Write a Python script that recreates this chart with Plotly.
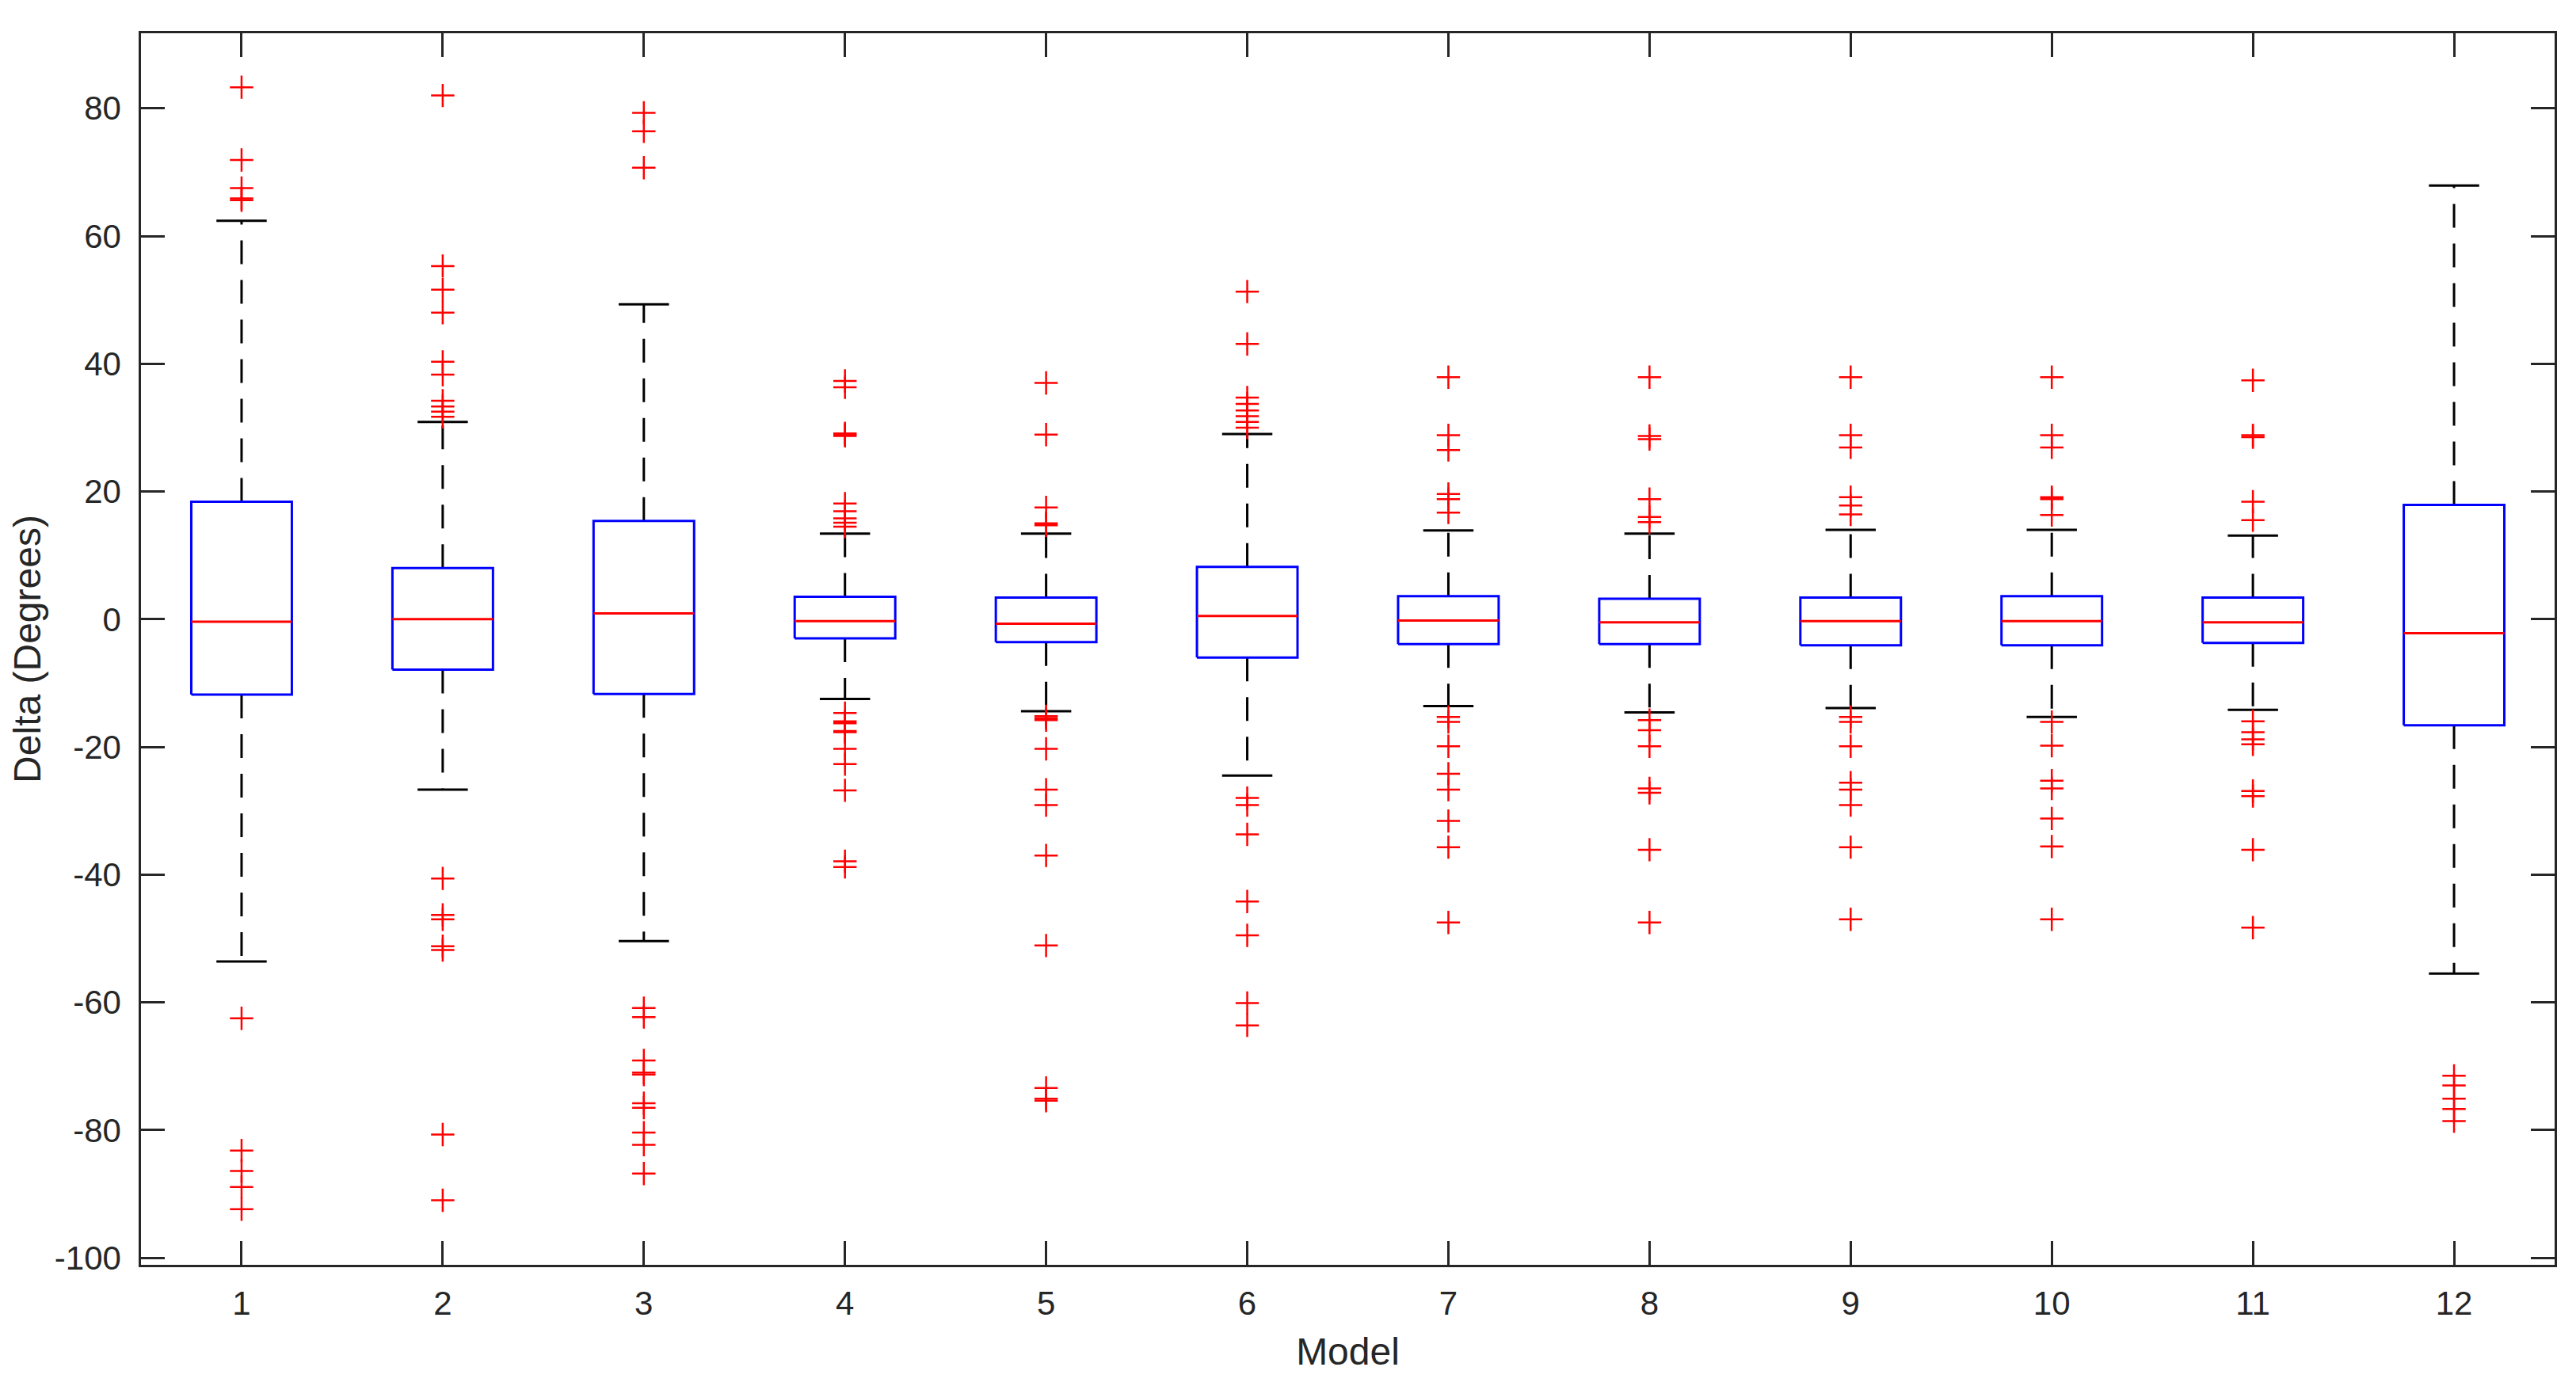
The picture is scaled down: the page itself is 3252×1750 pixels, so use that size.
import plotly.graph_objects as go

# box statistics (degrees)
models = list(range(1, 13))
q1 = [-11.8, -7.9, -11.7, -3.0, -3.6, -6.0, -3.9, -3.9, -4.1, -4.1, -3.7, -16.6]
median = [-0.4, 0.0, 0.9, -0.3, -0.7, 0.5, -0.2, -0.5, -0.3, -0.3, -0.5, -2.2]
q3 = [18.4, 8.0, 15.4, 3.5, 3.4, 8.2, 3.6, 3.2, 3.4, 3.6, 3.4, 17.9]
upper_whisker = [62.4, 30.9, 49.3, 13.4, 13.4, 29.0, 13.9, 13.4, 14.0, 14.0, 13.1, 67.9]
lower_whisker = [-53.6, -26.7, -50.4, -12.5, -14.4, -24.5, -13.6, -14.6, -13.9, -15.3, -14.2, -55.5]

outliers = [
    [83.3, 71.9, 67.5, 65.9, 65.6, -62.5, -83.2, -86.4, -88.9, -92.4],
    [82.0, 55.3, 51.6, 48.0, 40.3, 38.3, 34.2, 33.3, 32.5, 31.7,
     -40.6, -46.3, -47.0, -51.2, -51.8, -80.7, -91.0],
    [79.3, 76.4, 70.7, -60.9, -62.3, -69.1, -71.0, -71.3, -75.8, -76.5,
     -80.4, -82.3, -86.8],
    [37.3, 36.3, 29.1, 28.9, 28.7, 18.1, 16.9, 15.8, 15.1, 14.5,
     -14.7, -16.0, -16.3, -17.5, -17.7, -20.3, -22.7, -26.8, -37.9, -38.8],
    [37.0, 28.9, 17.5, 15.0, 14.7, -15.2, -15.5, -15.8, -20.3, -26.7,
     -29.1, -37.0, -51.1, -73.4, -75.1, -75.4],
    [51.3, 43.1, 34.7, 33.7, 32.7, 31.8, 30.9, 30.0,
     -28.0, -29.1, -33.7, -44.2, -49.5, -60.1, -63.6],
    [37.9, 28.8, 26.5, 19.6, 18.8, 16.7,
     -15.3, -16.1, -19.9, -24.2, -26.7, -31.6, -35.7, -47.5],
    [37.9, 28.7, 28.2, 18.8, 16.0, 15.2,
     -15.8, -17.4, -19.9, -26.5, -27.2, -36.1, -47.5],
    [37.9, 28.8, 26.9, 19.1, 17.8, 16.4,
     -15.3, -16.1, -19.9, -25.6, -26.7, -29.1, -35.7, -47.0],
    [37.9, 28.8, 26.9, 19.1, 18.8, 16.3,
     -16.1, -19.8, -25.3, -26.5, -31.2, -35.6, -47.0],
    [37.4, 28.8, 28.5, 18.4, 15.5,
     -16.0, -17.7, -18.8, -19.6, -26.9, -27.7, -36.1, -48.3],
    [-71.5, -73.0, -75.1, -76.7, -78.6],
]

y_ticks = list(range(-100, 81, 20))
y_tick_text = [str(v) for v in y_ticks]  # plain hyphen minus, as in the original

half_box = 0.25
half_cap = 0.125

# build line segments, separated by None
wx, wy = [], []
cx, cy = [], []
bx, by = [], []
mx, my = [], []
ox, oy = [], []
for i, m in enumerate(models):
    wx += [m, m, None, m, m, None]
    wy += [q3[i], upper_whisker[i], None, q1[i], lower_whisker[i], None]
    cx += [m - half_cap, m + half_cap, None, m - half_cap, m + half_cap, None]
    cy += [upper_whisker[i], upper_whisker[i], None, lower_whisker[i], lower_whisker[i], None]
    bx += [m - half_box, m + half_box, m + half_box, m - half_box, m - half_box, None]
    by += [q1[i], q1[i], q3[i], q3[i], q1[i], None]
    mx += [m - half_box, m + half_box, None]
    my += [median[i], median[i], None]
    ox += [m] * len(outliers[i])
    oy += outliers[i]

fig = go.Figure()
fig.add_trace(go.Scatter(x=wx, y=wy, mode="lines",
                         line=dict(color="black", width=3, dash="30px,20px")))
fig.add_trace(go.Scatter(x=cx, y=cy, mode="lines", line=dict(color="black", width=3)))
fig.add_trace(go.Scatter(x=bx, y=by, mode="lines", line=dict(color="#0000FF", width=3)))
fig.add_trace(go.Scatter(x=mx, y=my, mode="lines", line=dict(color="#FF0000", width=3)))
fig.add_trace(go.Scatter(x=ox, y=oy, mode="markers",
                         marker=dict(symbol="cross-thin", size=21,
                                     line=dict(color="#FF0000", width=2.5))))

axis_style = dict(
    showline=True, linecolor="#262626", linewidth=2.5, mirror="ticks",
    ticks="inside", ticklen=30, tickwidth=2.5, tickcolor="#262626",
    showgrid=False, zeroline=False, automargin=False,
    tickfont=dict(family="Liberation Sans, Arial", size=42, color="#262626"),
)

# page body adds an 8px offset, so the figure is a little smaller than the window
fig.update_layout(
    width=3236, height=1734,
    margin=dict(l=170, r=19, t=34, b=145),
    paper_bgcolor="white", plot_bgcolor="white",
    showlegend=False,
    font=dict(family="Liberation Sans, Arial", color="#262626"),
    xaxis=dict(range=[0.5, 12.5], tickvals=models, ticklabelstandoff=10,
               title=dict(text="Model", font=dict(size=48), standoff=22),
               **axis_style),
    yaxis=dict(range=[-101.1, 91.75], tickvals=y_ticks, ticktext=y_tick_text,
               ticklabelstandoff=14,
               title=dict(text="Delta (Degrees)", font=dict(size=48), standoff=18),
               **axis_style),
)

fig.write_html("out.html")
